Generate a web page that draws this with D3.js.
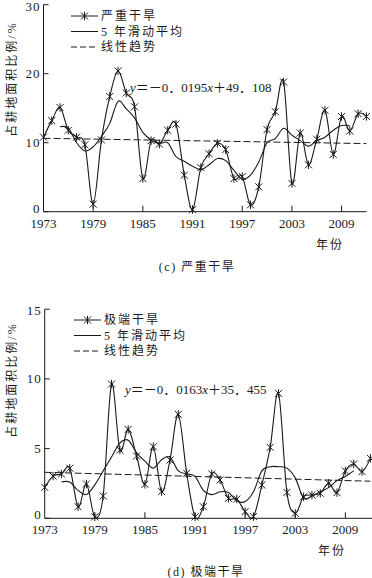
<!DOCTYPE html>
<html>
<head>
<meta charset="utf-8">
<script src="https://cdn.jsdelivr.net/npm/d3@7"></script>
<style>
  html,body{margin:0;padding:0;background:#fff;}
  svg{display:block;font-family:"Liberation Serif","Noto Sans CJK SC",serif;}
</style>
</head>
<body>
<div id="chart"></div>
<script>
// 两个面板：严重干旱 (c) 与 极端干旱 (d)，年份 1973–2012
const years = d3.range(1973, 2013);
const maYears = d3.range(1975, 2011);

const severe = [10.8,13.2,15.1,11.8,10.8,9.7,1.1,10.4,16.7,20.4,17.2,15.2,4.8,10.3,9.8,11.8,12.7,5.3,0.3,6.4,
  8.4,9.9,9.0,4.8,5.1,1.0,3.6,11.9,14.5,18.8,4.1,11.4,6.8,10.5,14.7,8.3,13.8,11.7,14.2,13.8];
const severeMA = [12.3,12.1,10.0,8.8,9.4,10.9,12.8,16.0,14.9,13.6,11.5,10.4,9.9,10.0,8.0,7.3,6.6,6.1,6.8,7.7,
  7.4,6.0,4.7,5.3,7.2,10.0,10.6,12.1,11.1,10.3,9.5,10.3,10.8,11.8,12.5,12.4];
const severeTrend = [10.64, 9.87];

const extreme = [2.22,3.03,3.18,3.59,0.83,2.46,0.1,1.6,9.63,4.9,6.38,4.47,2.44,5.14,1.91,4.18,7.46,3.23,0.1,0.83,
  3.18,2.75,1.43,1.38,0.48,0.12,2.39,5.09,8.96,1.86,0.36,1.55,1.67,1.79,2.51,1.84,3.4,3.9,3.35,4.3];
const extremeMA = [2.6,2.6,2.0,1.7,2.4,3.4,4.4,5.4,5.6,4.7,4.1,3.6,4.2,4.4,3.4,3.2,3.0,2.0,1.7,1.9,
  1.85,1.25,1.2,1.9,3.4,3.7,3.7,3.6,2.9,1.45,1.6,1.9,2.2,2.7,3.0,3.4];
const extremeTrend = [3.30, 2.66];

const xTicks = [1973,1979,1985,1991,1997,2003,2009];

const W = 372, H = 578, ink = "#1a1a1a";
const svg = d3.select("#chart").append("svg").attr("width",W).attr("height",H);

const star = "M-3.5,-3.5L3.5,3.5M-3.5,3.5L3.5,-3.5M0,-4.2L0,4.2";

function panel(o){
  const x = d3.scaleLinear().domain([1973,2012]).range(o.xr);
  const y = d3.scaleLinear().domain([0,o.ymax]).range(o.yr);
  const g = svg.append("g");
  const line = d3.line().x(d=>x(d[0])).y(d=>y(d[1])).curve(d3.curveCatmullRom.alpha(0));

  // 坐标轴
  g.append("line").attr("x1",o.xr[0]).attr("x2",o.xr[0]).attr("y1",o.yr[0]).attr("y2",o.yr[1]).attr("stroke",ink);
  g.append("line").attr("x1",o.xr[0]).attr("x2",o.xEnd).attr("y1",o.yr[0]).attr("y2",o.yr[0]).attr("stroke",ink);
  g.selectAll(".yt").data(o.yTicks).join("line").attr("x1",o.xr[0]).attr("x2",o.xr[0]+5)
    .attr("y1",d=>y(d)).attr("y2",d=>y(d)).attr("stroke",ink);
  // 0 标签略上移、最高标签略下移，避免与年份标签/画面上沿相碰
  const nudge = d => d===0 ? -3.5 : (d===o.ymax ? 1.5 : 0);
  g.selectAll(".yl").data(o.yTicks).join("text").attr("x",o.xr[0]-3).attr("y",d=>y(d)+nudge(d)).attr("dy","0.35em")
    .attr("text-anchor","end").attr("font-size",13).attr("letter-spacing",1).attr("fill",ink).text(d=>d);
  g.selectAll(".xt").data(xTicks.slice(1)).join("line").attr("x1",d=>x(d)).attr("x2",d=>x(d))
    .attr("y1",o.yr[0]).attr("y2",o.yr[0]-6).attr("stroke",ink);
  g.selectAll(".xl").data(xTicks).join("text").attr("x",d=>x(d)).attr("y",o.yr[0]+16)
    .attr("text-anchor","middle").attr("font-size",13).attr("fill",ink).text(d=>d);

  // 趋势线、滑动平均、原始序列
  g.append("path").attr("d",line([[1973,o.trend[0]],[2012,o.trend[1]]])).attr("fill","none")
    .attr("stroke",ink).attr("stroke-dasharray","7,3");
  g.append("path").attr("d",line(maYears.map((yr,i)=>[yr,o.ma[i]]))).attr("fill","none").attr("stroke",ink).attr("stroke-width",1.1);
  g.append("path").attr("d",line(years.map((yr,i)=>[yr,o.vals[i]]))).attr("fill","none").attr("stroke",ink).attr("stroke-width",1.1);
  g.selectAll(".pt").data(o.vals).join("path").attr("d",star)
    .attr("transform",(d,i)=>`translate(${x(years[i])},${y(d)})`).attr("fill","none").attr("stroke",ink).attr("stroke-width",1);

  // 图例
  const lg = g.append("g").attr("font-size",12).attr("letter-spacing",2).attr("fill",ink);
  const items = [o.name,"5 年滑动平均","线性趋势"];
  items.forEach((t,i)=>{
    const cy = o.legY + i*o.legDy;
    lg.append("line").attr("x1",o.legX).attr("x2",o.legX+27).attr("y1",cy).attr("y2",cy).attr("stroke",ink)
      .attr("stroke-dasharray",i==2?"6,3":null);
    if(i==0) lg.append("path").attr("d",star).attr("transform",`translate(${o.legX+13.5},${cy})`).attr("fill","none").attr("stroke",ink);
    lg.append("text").attr("x",o.legX+30).attr("y",cy).attr("dy","0.36em").text(t);
  });

  // 回归方程
  const eq = g.append("text").attr("x",o.eqX).attr("y",o.eqY).attr("font-size",13).attr("fill",ink);
  eq.append("tspan").attr("font-style","italic").text("y");
  eq.append("tspan").text(o.eq[0]);
  eq.append("tspan").attr("font-style","italic").text("x");
  eq.append("tspan").text(o.eq[1]);

  // 轴标题与图名
  g.append("text").attr("transform",`translate(16,${o.ylabY}) rotate(-90)`).attr("text-anchor","middle")
    .attr("font-size",12).attr("letter-spacing",2).attr("fill",ink).text("占耕地面积比例/%");
  g.append("text").attr("x",o.yearX).attr("y",o.yr[0]+37).attr("text-anchor","middle")
    .attr("font-size",12).attr("letter-spacing",2).attr("fill",ink).text("年份");
  g.append("text").attr("x",o.capX).attr("y",o.capY).attr("text-anchor","middle")
    .attr("font-size",12).attr("letter-spacing",1.5).attr("fill",ink).text(o.cap);
}

panel({name:"严重干旱", vals:severe, ma:severeMA, trend:severeTrend, ymax:30, yTicks:[0,10,20,30],
  xr:[43.5,366.4], xEnd:366.6, yr:[211.7,4.7], legX:71, legY:16, legDy:15.5,
  eq:["＝－0．0195","＋49．108"], eqX:130, eqY:92, ylabY:79, yearX:330, capX:197, capY:271, cap:"(c) 严重干旱"});
panel({name:"极端干旱", vals:extreme, ma:extremeMA, trend:extremeTrend, ymax:15, yTicks:[0,5,10,15],
  xr:[44.7,370.4], xEnd:372, yr:[518.3,309.2], legX:74, legY:320, legDy:15.5,
  eq:["＝－0．0163","＋35．455"], eqX:125, eqY:394, ylabY:380, yearX:332, capX:206, capY:576, cap:"(d) 极端干旱"});
</script>
</body>
</html>
